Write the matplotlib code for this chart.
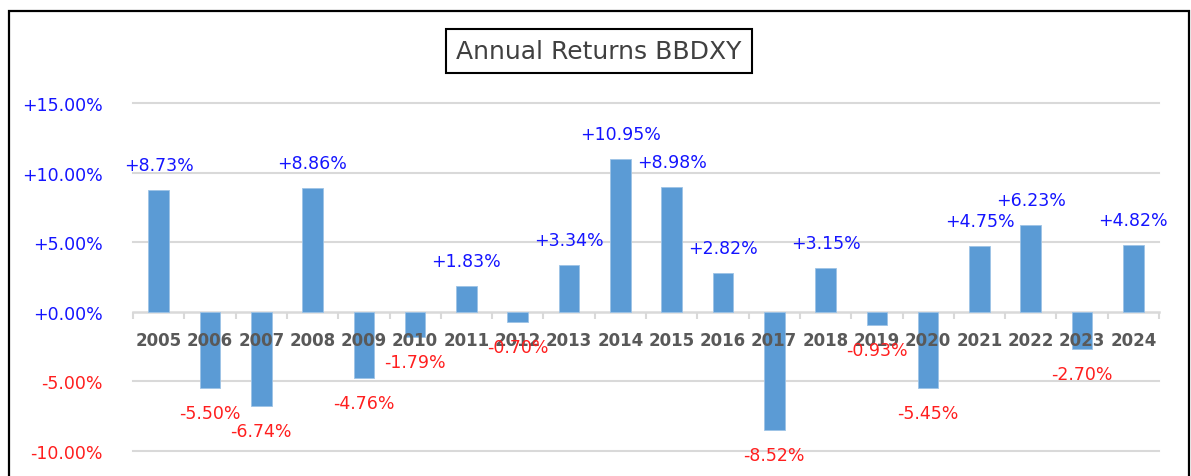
import matplotlib.pyplot as plt
from matplotlib.patches import Rectangle

years = [str(y) for y in range(2005, 2025)]
returns = [8.73, -5.50, -6.74, 8.86, -4.76, -1.79, 1.83, -0.70, 3.34, 10.95,
           8.98, 2.82, -8.52, 3.15, -0.93, -5.45, 4.75, 6.23, -2.70, 4.82]
yticks = [-10, -5, 0, 5, 10, 15]

BLUE = "#1414FF"
RED = "#FF1E1E"
GRID = "#D9D9D9"

fig = plt.figure(figsize=(11.91, 4.77), dpi=100)
ax = fig.add_axes([133 / 1191, 0.0, (1159 - 133) / 1191, (477 - 104) / 477])

x = list(range(len(years)))
ax.bar(x, returns, width=0.4, color="#5B9BD5", edgecolor="#9DC3E6", linewidth=0.6, zorder=2.2)

ax.set_xlim(-0.5, len(years) - 0.5)
ax.set_ylim(-11.8, 15)

for v in yticks:
    if v != 0:
        ax.axhline(v, color=GRID, lw=1.5, zorder=1, clip_on=False)

# y axis labels
ax.set_yticks(yticks)
ax.set_yticklabels(["%+.2f%%" % v for v in yticks])
for lab, v in zip(ax.get_yticklabels(), yticks):
    lab.set_color(BLUE if v >= 0 else RED)
ax.tick_params(axis="y", length=0, pad=22, labelsize=12.5)

# x axis at zero, year labels drawn over the bars
for s in ["top", "right", "left"]:
    ax.spines[s].set_visible(False)
ax.spines["bottom"].set_position(("data", 0))
ax.spines["bottom"].set_color(GRID)
ax.spines["bottom"].set_linewidth(1.8)
ax.spines["bottom"].set_zorder(2)
ax.xaxis.set_zorder(3)
ax.set_xticks(x)
ax.set_xticklabels(years, fontweight="bold", color="#595959", fontsize=12)
ax.tick_params(axis="x", length=0, pad=14)
ax.set_xticks([i - 0.5 for i in range(len(years) + 1)], minor=True)
ax.tick_params(axis="x", which="minor", length=5, width=1.5, color=GRID)

# data labels
for i, v in enumerate(returns):
    off = 18 if v >= 0 else -18
    ax.annotate("%+.2f%%" % v, (i, v), xytext=(0, off), textcoords="offset points",
                ha="center", va="center", fontsize=12.5,
                color=BLUE if v >= 0 else RED, zorder=4)

fig.text(0.503, 0.892, "Annual Returns BBDXY", ha="center", va="center",
         fontsize=18, color="#404040",
         bbox=dict(boxstyle="square,pad=0.4", facecolor="white", edgecolor="black", lw=1.5))

fig.patches.append(Rectangle((9 / 1191, -0.1), (1189 - 9) / 1191, 0.975 + 0.1,
                             transform=fig.transFigure, fill=False,
                             edgecolor="black", lw=1.6))

fig.savefig("out.png", dpi=100)
